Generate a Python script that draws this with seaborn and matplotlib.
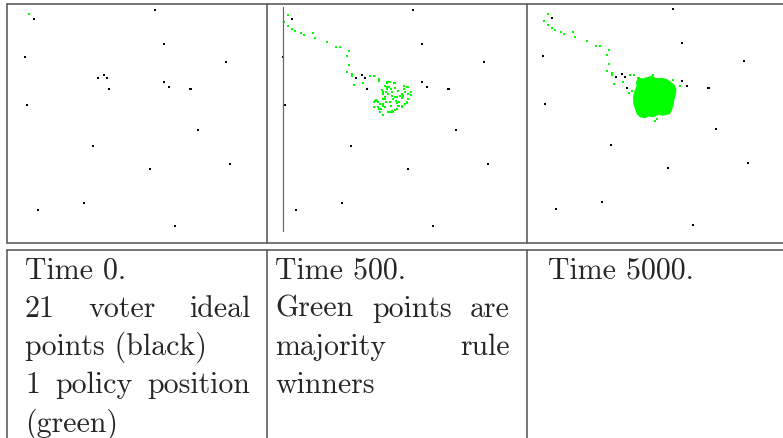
import matplotlib
matplotlib.use("Agg")
import numpy as np
import pandas as pd
import matplotlib.pyplot as plt
import seaborn as sns

# 21 voter ideal points (panel units: x 0..260 left->right, y 0..239 top->bottom)
voter_x = [148, 26.7, 157, 218.7, 18, 90.7, 97.3, 100, 102.3, 157, 161.7,
           182.5, 184, 20, 191.3, 86.3, 223.3, 143.3, 77, 31.3, 168.3]
voter_y = [5.7, 15, 40, 58, 53.3, 74, 71.3, 74, 85.3, 78.3, 83,
           85, 85, 101.3, 126.3, 142, 160.3, 164.7, 198.7, 205.7, 221.7]

# starting policy position (time 0)
start_x = [22.3]
start_y = [10.3]

# path of majority rule winners (shared by time 500 and time 5000)
trail_x = [23, 19, 23, 27.3, 29.7, 36.3, 38.7, 48, 50.3, 61.7, 71, 75.3, 84.3,
           82.3, 84.3, 82.3, 86.7, 86.7, 89, 98, 105, 109.3, 114, 114]
trail_y = [11, 18, 22.3, 24.7, 27, 29, 31.3, 29, 33.7, 38.3, 42.7, 42.7, 47.3,
           51.7, 61, 67.7, 70, 72.3, 81.3, 79, 72.3, 72.3, 74.7, 76.7]

# cloud of winners at time 500
cloud_x = [121.7, 123.3, 129.3, 121.7, 124, 126, 116.7, 118.3, 120.7, 122.7,
           126.7, 130, 133.3, 139.3, 141.7, 143.3, 139.3, 140, 142.7, 135,
           136.7, 130, 130.7, 131.7, 133.3, 125, 126, 120, 120.7, 118.3,
           110.7, 109.3, 113.3, 115, 112.7, 116, 115, 124, 126.7, 131.7,
           140, 141.7, 143.3, 137.3, 120, 110, 111.7, 113.3, 123.3, 125.7,
           128.3, 118.3, 146, 146, 143.3, 141.7, 134.3, 130, 121.7, 125,
           130, 120, 121.7, 123.3, 126.7, 128.3, 131.7, 118.3, 118.3, 118.3,
           120, 114, 109.3, 136.7, 138.3, 136.7, 134.3]
cloud_y = [79.3, 78.3, 79.3, 82.7, 83.3, 85, 86, 88.3, 88.3, 90,
           88.3, 84, 86.7, 81.7, 83.3, 82.7, 85, 88.3, 90, 91.7,
           94, 93.3, 96.7, 99.3, 101.7, 98.3, 101.7, 95, 98.3, 101.7,
           96, 98.3, 98.3, 100, 102.7, 105, 108.3, 108.3, 107.3, 105,
           100, 98.3, 95, 103.3, 93.3, 96.7, 96.7, 98.3, 108.3, 108.3,
           108.3, 110.7, 88.3, 90.7, 83.3, 99.3, 101.7, 106, 78.3, 78.3,
           79, 82.3, 85, 90, 91.7, 95, 93.3, 90, 95, 100,
           103.3, 105, 103.3, 90, 91.7, 101.7, 98.3]

# dense region of winners at time 5000 (outline) plus stray winners
blob_x = [113.3, 117, 121.7, 126.7, 131.7, 136, 141.7, 146.7, 150, 151.5, 151,
          149.5, 148.5, 146.7, 145, 138.3, 133, 128.3, 124, 120, 115, 111.7,
          110, 108.3, 108, 109.5, 111.5, 111]
blob_y = [74.3, 75.5, 74.3, 72.7, 75.3, 74.8, 76, 79.3, 82.7, 86, 91,
          96, 102.7, 107.7, 111, 112.7, 112, 114.3, 113.5, 115.3, 114.3, 111,
          106, 101, 94.3, 87.7, 83.3, 79.3]
stray_x = [147.7, 155, 104.3, 106.7, 130, 113.3, 127.7, 132]
stray_y = [76.7, 83.3, 90, 87.7, 117.7, 75.3, 72, 116]

# text of the caption row; True marks a line LaTeX stretched to full width
col_lines = [
    [("Time 0.", False), ("21 voter ideal", True), ("points (black)", False),
     ("1 policy position", True), ("(green)", False)],
    [("Time 500.", False), ("Green points are", True), ("majority rule", True),
     ("winners", False)],
    [("Time 5000.", False)],
]

W, H = 783, 439
fig = plt.figure(figsize=(W / 100, H / 100), dpi=100)
sns.set_style("white")
plt.rcParams["font.family"] = ["cmr10", "DejaVu Serif"]

bg = fig.add_axes([0, 0, 1, 1])
bg.set_xlim(0, W)
bg.set_ylim(H, 0)
bg.axis("off")

line_kw = dict(color="#585858", lw=1.15)
for yy in [5, 244.3, 251]:
    bg.plot([7, W], [yy, yy], **line_kw)
for xx in [7, 267, 527]:
    bg.plot([xx, xx], [5, 244.3], **line_kw)
    bg.plot([xx, xx], [251, H], **line_kw)

PW, PH = 260, 239
origins = [(7, 5), (265, 5), (525, 4)]
panels = []
for ox, oy in origins:
    ax = fig.add_axes([ox / W, 1 - (oy + PH) / H, PW / W, PH / H])
    ax.patch.set_alpha(0)
    panels.append(ax)

green = "#00ff00"
pt = dict(marker="s", s=4.2, linewidth=0, legend=False)
voters = pd.DataFrame({"x": voter_x, "y": voter_y})
trail = pd.DataFrame({"x": trail_x, "y": trail_y})

# time 0
sns.scatterplot(data=voters, x="x", y="y", color="black", ax=panels[0], **pt)
sns.scatterplot(x=start_x, y=start_y, color=green, ax=panels[0], **pt)

# time 500
panels[1].plot([18.3, 18.3], [3.3, 227.3], color="#6a6a6a", lw=0.9)
sns.scatterplot(data=trail, x="x", y="y", color=green, ax=panels[1], **pt)
sns.scatterplot(x=cloud_x, y=cloud_y, color=green, ax=panels[1], **pt)
sns.scatterplot(data=voters, x="x", y="y", color="black", ax=panels[1], **pt)

# time 5000
panels[2].fill(blob_x, blob_y, color=green, lw=0)
sns.scatterplot(data=trail, x="x", y="y", color=green, ax=panels[2], **pt)
sns.scatterplot(x=stray_x, y=stray_y, color=green, ax=panels[2], **pt)
sns.scatterplot(data=voters, x="x", y="y", color="black", ax=panels[2], **pt)

for ax in panels:
    ax.set_xlim(0, PW)
    ax.set_ylim(PH, 0)
    ax.axis("off")

# caption text
fs = 21.5
col_box = [(25, 250), (275, 510), (548, 770)]
base0, lead = 278.3, 38.4
renderer = fig.canvas.get_renderer()
for (x0, x1), lines in zip(col_box, col_lines):
    for i, (line, just) in enumerate(lines):
        yb = base0 + i * lead
        if not just:
            bg.text(x0, yb, line, fontsize=fs, va="baseline", ha="left")
            continue
        words = line.split()
        texts = [bg.text(0, yb, w, fontsize=fs, va="baseline", ha="left") for w in words]
        widths = [t.get_window_extent(renderer).width for t in texts]
        gap = (x1 - x0 - sum(widths)) / (len(words) - 1)
        xx = x0
        for t, w in zip(texts, widths):
            t.set_x(xx)
            xx += w + gap

fig.savefig("out.png", dpi=100)
